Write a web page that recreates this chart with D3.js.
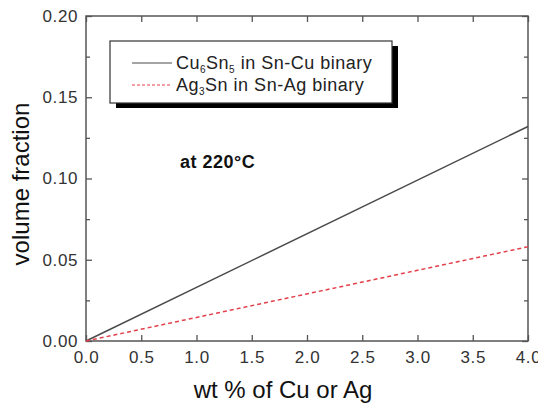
<!DOCTYPE html>
<html>
<head>
<meta charset="utf-8">
<style>
    body { margin: 0; background: #fff; }
    svg { font-family: Arial, 'Liberation Sans', sans-serif; }
</style>
</head>
<body>
<svg width="538" height="405"></svg>
<script src="https://d3js.org/d3.v7.min.js"></script>
<script>
    // data
    let wtPct = [0.0, 4.0];
    let cu6sn5 = [0.0, 0.132];
    let ag3sn = [0.0, 0.058];
    let xTicks = [0, 0.5, 1, 1.5, 2, 2.5, 3, 3.5, 4];
    let yTicks = [0, 0.05, 0.1, 0.15, 0.2];
    let yMinor = [0.025, 0.075, 0.125, 0.175];

    let margin = {left: 86, top: 16, right: 10, bottom: 64};
    let width = 538, height = 405;

    let svg = d3.select("svg");

    let x = d3.scaleLinear().domain([0, 4]).range([margin.left, width - margin.right]);
    let y = d3.scaleLinear().domain([0, 0.2]).range([height - margin.bottom, margin.top]);

    let axisColor = "#555";

    // frame
    svg.append("rect")
        .attr("x", x(0)).attr("y", y(0.2))
        .attr("width", x(4) - x(0)).attr("height", y(0) - y(0.2))
        .attr("fill", "none").attr("stroke", axisColor).attr("stroke-width", 1.5);

    // axes, ticks pointing inside
    let fmt = d3.format(".2f");
    svg.append("g").attr("transform", `translate(0,${y(0)})`)
        .call(d3.axisBottom(x).tickValues(xTicks).tickSize(-6).tickPadding(10).tickFormat(d3.format(".1f")));
    svg.append("g").attr("transform", `translate(0,${y(0.2)})`)
        .call(d3.axisTop(x).tickValues(xTicks).tickSize(-6).tickFormat(""));
    svg.append("g").attr("transform", `translate(${x(0)},0)`)
        .call(d3.axisLeft(y).tickValues(yTicks).tickSize(-6).tickPadding(8).tickFormat(fmt));
    svg.append("g").attr("transform", `translate(${x(0)},0)`)
        .call(d3.axisLeft(y).tickValues(yMinor).tickSize(-4).tickFormat(""));
    svg.append("g").attr("transform", `translate(${x(4)},0)`)
        .call(d3.axisRight(y).tickValues(yTicks).tickSize(-6).tickFormat(""));
    svg.append("g").attr("transform", `translate(${x(4)},0)`)
        .call(d3.axisRight(y).tickValues(yMinor).tickSize(-4).tickFormat(""));

    svg.selectAll(".domain").remove();
    svg.selectAll(".tick line").attr("stroke", axisColor).attr("stroke-width", 1.3);
    svg.selectAll(".tick text")
        .attr("fill", "#333")
        .style("font-size", "17px")
        .style("letter-spacing", "0.6px")
        .style("font-family", "Arial, 'Liberation Sans', sans-serif");

    // axis titles
    svg.append("text")
        .attr("x", 283).attr("y", 398)
        .attr("text-anchor", "middle")
        .attr("fill", "#111")
        .style("font-size", "24px")
        .text("wt % of Cu or Ag");
    svg.append("text")
        .attr("transform", `translate(29,184) rotate(-90)`)
        .attr("text-anchor", "middle")
        .attr("fill", "#111")
        .style("font-size", "24px")
        .text("volume fraction");

    // lines
    let line = d3.line().x((d, i) => x(wtPct[i])).y(d => y(d));
    svg.append("path").datum(cu6sn5)
        .attr("d", line)
        .attr("fill", "none").attr("stroke", "#4a4a4a").attr("stroke-width", 1.5);
    svg.append("path").datum(ag3sn)
        .attr("d", line)
        .attr("fill", "none").attr("stroke", "#e3404c").attr("stroke-width", 1.5)
        .attr("stroke-dasharray", "4,3");

    // legend with shadow
    let lg = svg.append("g");
    lg.append("rect").attr("x", 116).attr("y", 46).attr("width", 282).attr("height", 62).attr("fill", "#000");
    lg.append("rect").attr("x", 110).attr("y", 41).attr("width", 282).attr("height", 62)
        .attr("fill", "#fff").attr("stroke", "#333").attr("stroke-width", 1.2);

    lg.append("line").attr("x1", 132).attr("x2", 172).attr("y1", 63).attr("y2", 63)
        .attr("stroke", "#4a4a4a").attr("stroke-width", 1.2);
    lg.append("line").attr("x1", 132).attr("x2", 172).attr("y1", 85).attr("y2", 85)
        .attr("stroke", "#e3404c").attr("stroke-width", 1.2).attr("stroke-dasharray", "3,2");

    let t1 = lg.append("text").attr("x", 176).attr("y", 69).attr("fill", "#222")
        .style("font-size", "18px").style("letter-spacing", "0.5px");
    t1.append("tspan").text("Cu");
    t1.append("tspan").attr("dy", 4).style("font-size", "10px").text("6");
    t1.append("tspan").attr("dy", -4).text("Sn");
    t1.append("tspan").attr("dy", 4).style("font-size", "10px").text("5");
    t1.append("tspan").attr("dy", -4).text(" in Sn-Cu binary");

    let t2 = lg.append("text").attr("x", 176).attr("y", 91).attr("fill", "#222")
        .style("font-size", "18px").style("letter-spacing", "0.5px");
    t2.append("tspan").text("Ag");
    t2.append("tspan").attr("dy", 4).style("font-size", "10px").text("3");
    t2.append("tspan").attr("dy", -4).text("Sn in Sn-Ag binary");

    svg.append("text")
        .attr("x", 180).attr("y", 168)
        .attr("fill", "#111")
        .style("font-size", "18px").style("font-weight", "bold")
        .style("letter-spacing", "0.5px")
        .text("at 220°C");
</script>
</body>
</html>
